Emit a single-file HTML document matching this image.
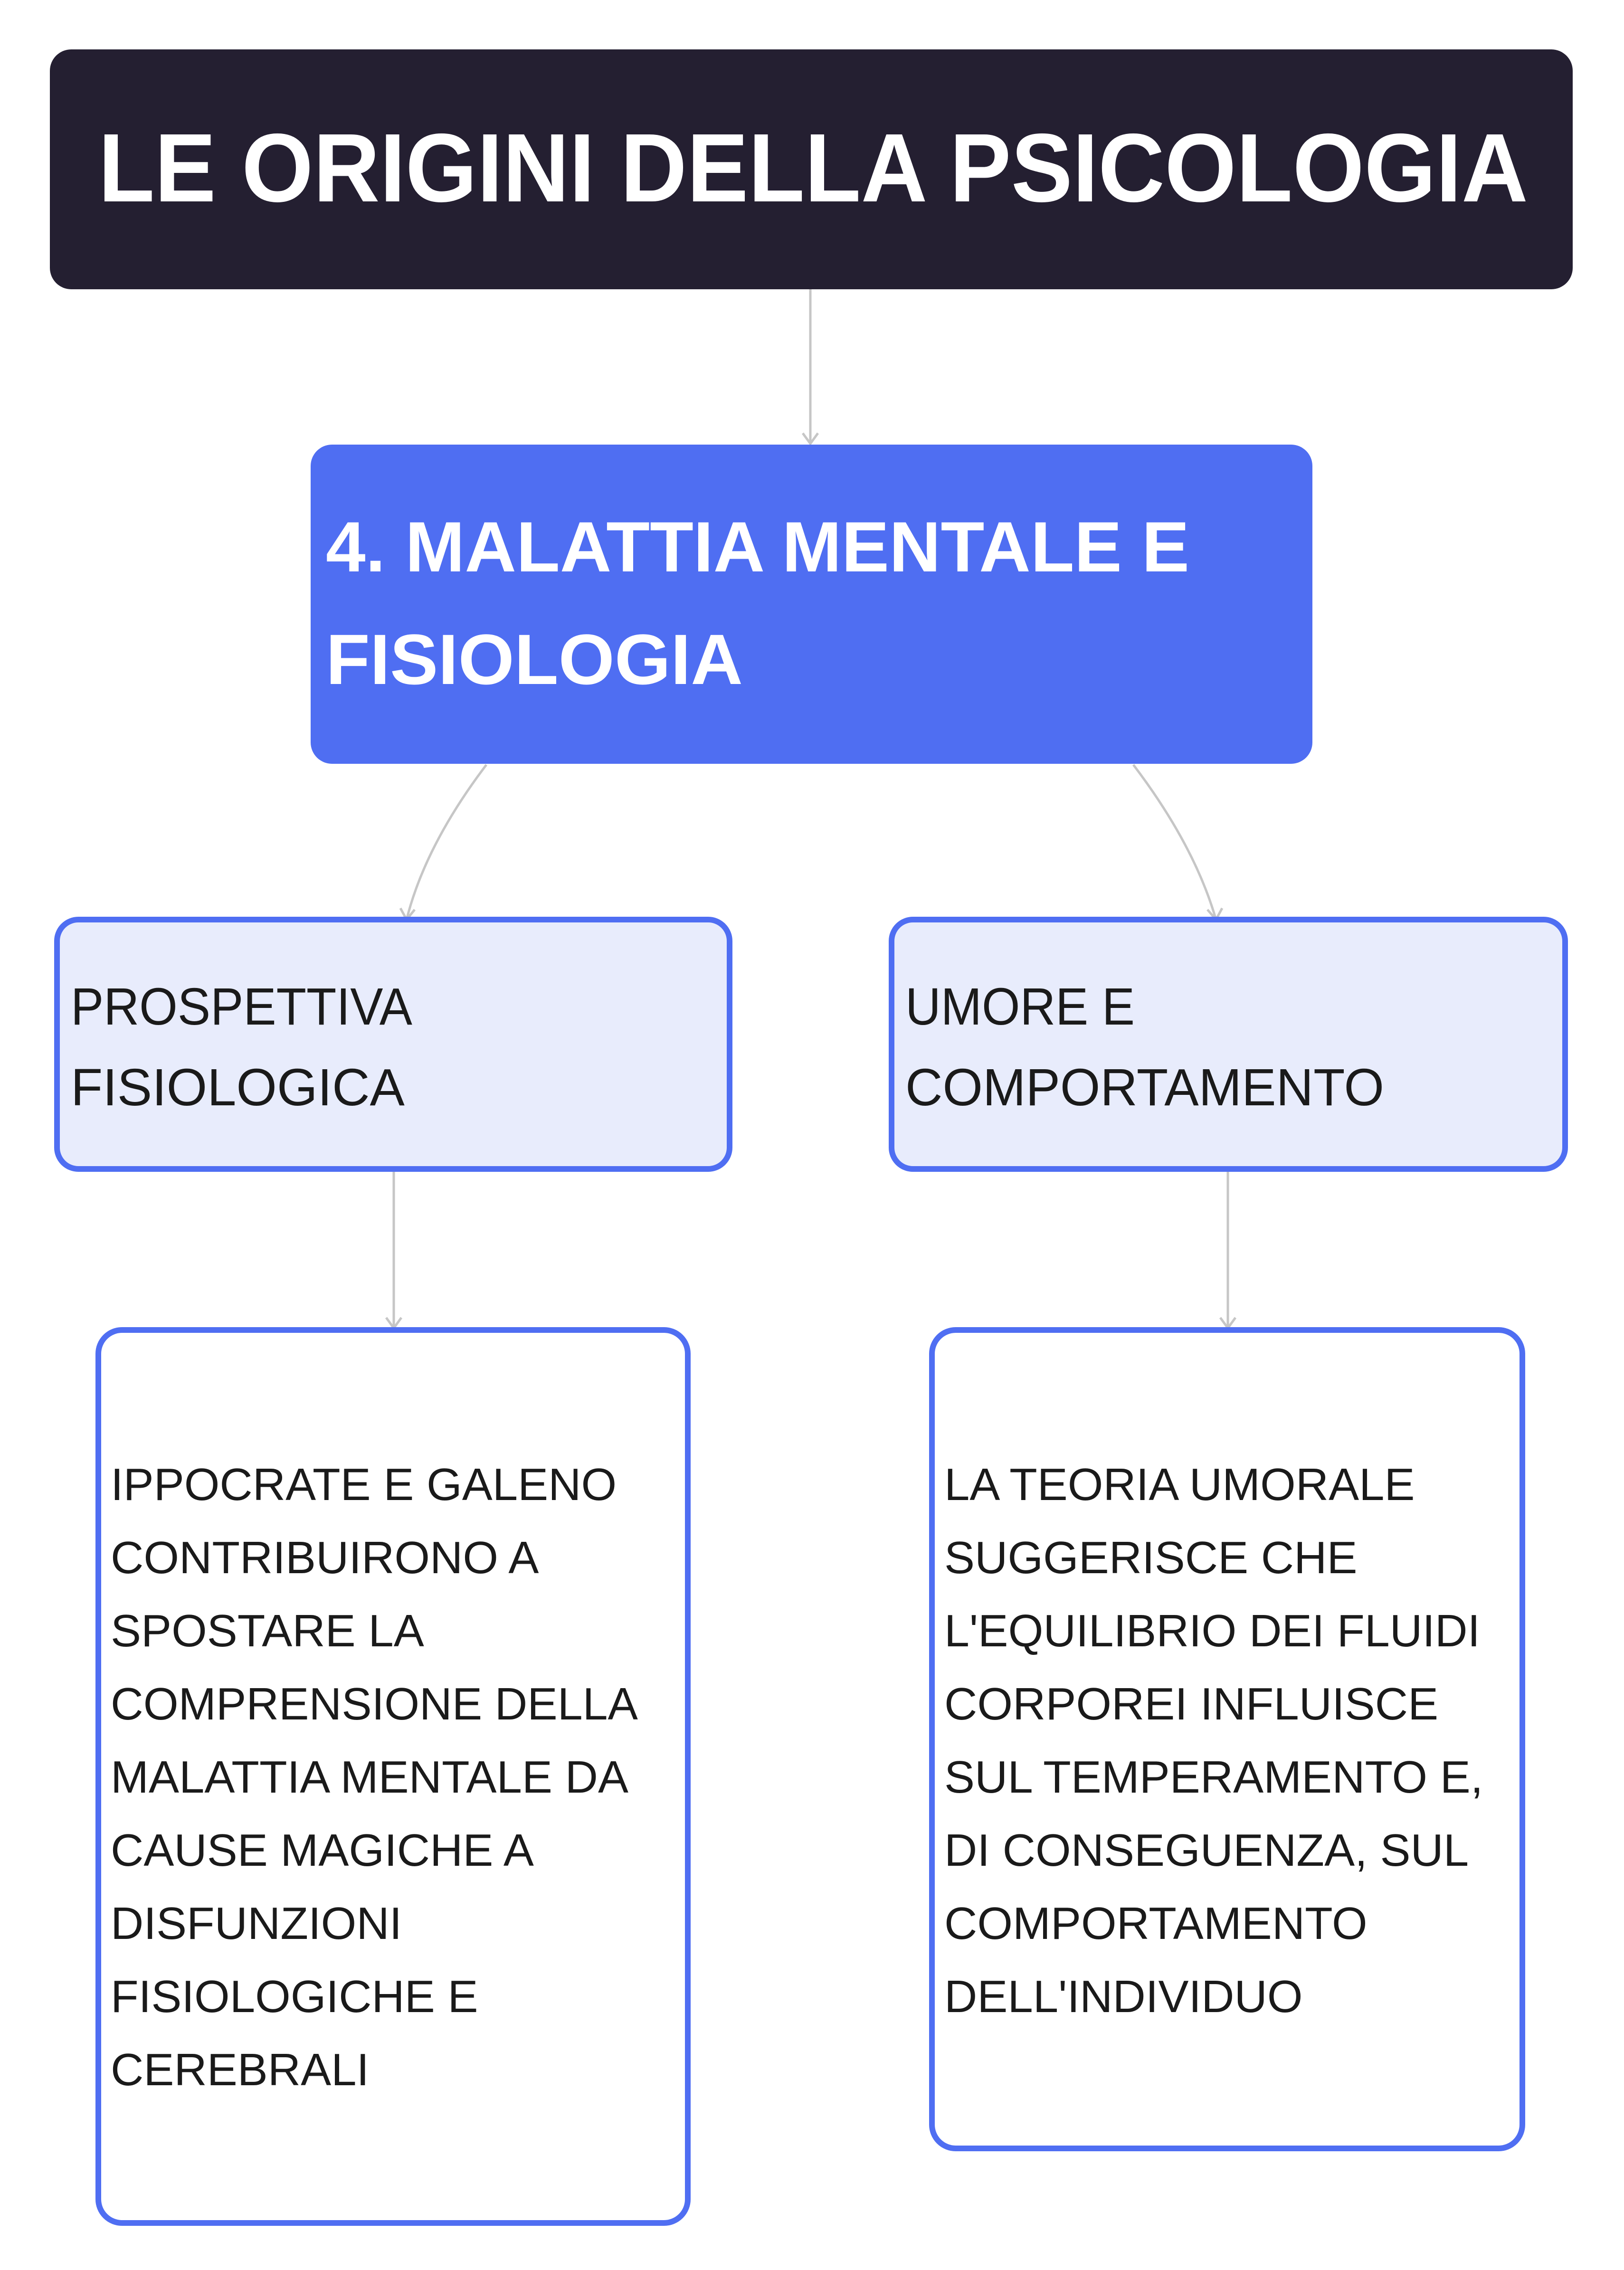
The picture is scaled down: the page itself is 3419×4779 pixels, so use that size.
<!DOCTYPE html>
<html><head><meta charset="utf-8"><style>
html,body{margin:0;padding:0;background:#fff;}
svg{display:block;}
text{font-family:"Liberation Sans",sans-serif;}
</style></head><body>
<svg width="3419" height="4779" viewBox="0 0 3419 4779" xmlns="http://www.w3.org/2000/svg">
<g fill="none" stroke="#c6c6c6" stroke-width="5">
<path d="M1706 608 L1706 934"/>
<path d="M1690 912 L1706 934 L1722 912"/>
<path d="M1024 1610 Q895 1780 856 1936"/>
<path d="M843 1912 L856 1936 L873 1915"/>
<path d="M2386 1610 Q2515 1780 2560 1936"/>
<path d="M2542 1915 L2560 1936 L2573 1912"/>
<path d="M829 2464 L829 2796"/>
<path d="M813 2774 L829 2796 L845 2774"/>
<path d="M2585 2464 L2585 2796"/>
<path d="M2569 2774 L2585 2796 L2601 2774"/>
</g>
<rect x="105" y="104" width="3206" height="505" rx="45" fill="#241f31"/>
<text x="207" y="424" font-size="205" font-weight="bold" fill="#fff" textLength="3010" lengthAdjust="spacingAndGlyphs">LE ORIGINI DELLA PSICOLOGIA</text>
<rect x="654" y="936" width="2109" height="672" rx="45" fill="#4f6ef2"/>
<g font-size="150" font-weight="bold" fill="#fff">
<text x="686" y="1203" textLength="1818" lengthAdjust="spacingAndGlyphs">4. MALATTIA MENTALE E</text>
<text x="686" y="1440" textLength="878" lengthAdjust="spacingAndGlyphs">FISIOLOGIA</text>
</g>
<g fill="#e8ecfc" stroke="#4f6ef2" stroke-width="12">
<rect x="120" y="1936" width="1416" height="525" rx="45"/>
<rect x="1877" y="1936" width="1418" height="525" rx="45"/>
</g>
<g fill="#fff" stroke="#4f6ef2" stroke-width="12">
<rect x="207" y="2800" width="1241" height="1880" rx="50"/>
<rect x="1962" y="2800" width="1243" height="1723" rx="50"/>
</g>
<g font-size="110" fill="#1a1a1a">
<text x="149" y="2157" textLength="719" lengthAdjust="spacingAndGlyphs">PROSPETTIVA</text>
<text x="149" y="2327">FISIOLOGICA</text>
<text x="1906" y="2157" textLength="483" lengthAdjust="spacingAndGlyphs">UMORE E</text>
<text x="1906" y="2327" textLength="1008" lengthAdjust="spacingAndGlyphs">COMPORTAMENTO</text>
</g>
<g font-size="96" fill="#1a1a1a">
<text x="233" y="3158">IPPOCRATE E GALENO</text>
<text x="233" y="3312">CONTRIBUIRONO A</text>
<text x="233" y="3466">SPOSTARE LA</text>
<text x="233" y="3620" textLength="1110" lengthAdjust="spacingAndGlyphs">COMPRENSIONE DELLA</text>
<text x="233" y="3774">MALATTIA MENTALE DA</text>
<text x="233" y="3928">CAUSE MAGICHE A</text>
<text x="233" y="4082">DISFUNZIONI</text>
<text x="233" y="4236">FISIOLOGICHE E</text>
<text x="233" y="4390">CEREBRALI</text>
<text x="1988" y="3158">LA TEORIA UMORALE</text>
<text x="1988" y="3312">SUGGERISCE CHE</text>
<text x="1988" y="3466" textLength="1128" lengthAdjust="spacingAndGlyphs">L'EQUILIBRIO DEI FLUIDI</text>
<text x="1988" y="3620">CORPOREI INFLUISCE</text>
<text x="1988" y="3774">SUL TEMPERAMENTO E,</text>
<text x="1988" y="3928">DI CONSEGUENZA, SUL</text>
<text x="1988" y="4082">COMPORTAMENTO</text>
<text x="1988" y="4236">DELL'INDIVIDUO</text>
</g>
</svg>
</body></html>
